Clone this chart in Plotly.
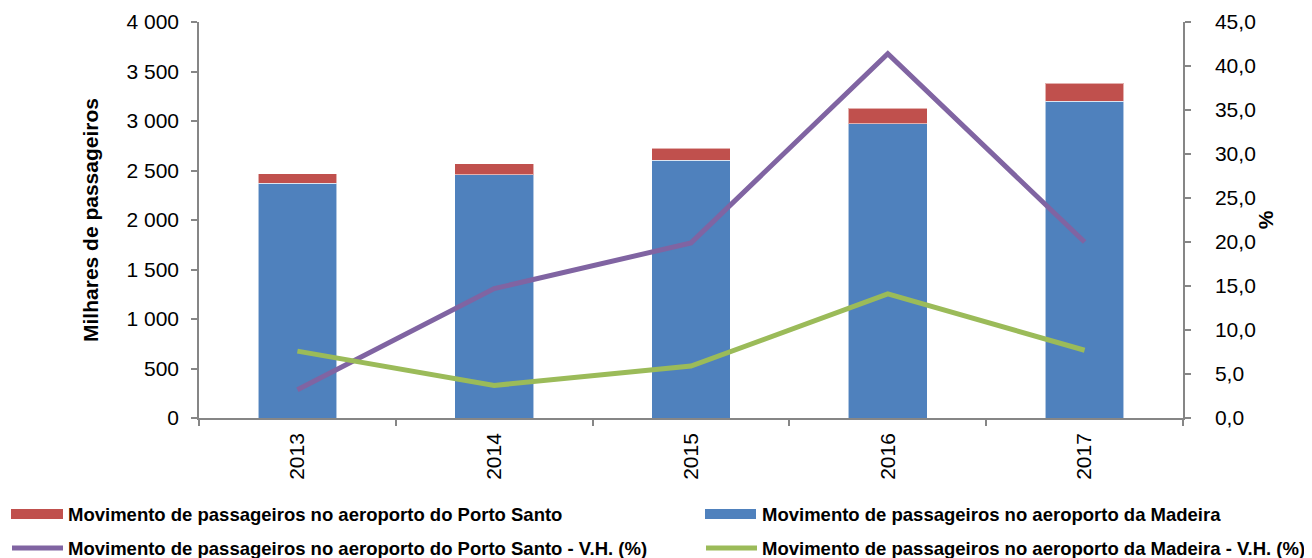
import plotly.graph_objects as go

years = ["2013", "2014", "2015", "2016", "2017"]
madeira = [2371, 2455, 2606, 2973, 3202]
porto_santo = [97, 111, 121, 155, 179]
vh_porto_santo = [3.2, 14.7, 19.9, 41.4, 20.0]
vh_madeira = [7.6, 3.7, 5.9, 14.1, 7.7]

left_ticks = [0, 500, 1000, 1500, 2000, 2500, 3000, 3500, 4000]
left_ticktext = ["0", "500", "1 000", "1 500", "2 000", "2 500", "3 000", "3 500", "4 000"]
right_ticks = [0, 5, 10, 15, 20, 25, 30, 35, 40, 45]
right_ticktext = ["0,0", "5,0", "10,0", "15,0", "20,0", "25,0", "30,0", "35,0", "40,0", "45,0"]

legend_labels = [
    "Movimento de passageiros no aeroporto do Porto Santo",
    "Movimento de passageiros no aeroporto da Madeira",
    "Movimento de passageiros no aeroporto do Porto Santo - V.H. (%)",
    "Movimento de passageiros no aeroporto da Madeira - V.H. (%)",
]

C_RED = "#C0504D"
C_BLUE = "#4F81BD"
C_PURPLE = "#8064A2"
C_GREEN = "#9BBB59"
AXIS = "#868686"
FONT = "Liberation Sans, Arial, sans-serif"

OFF = 8  # page body margin
W, H = 1312 - OFF, 558 - OFF
L, T = 199 - OFF, 22 - OFF
R = W - (1183 - OFF)
B = H - (418 - OFF)
PW, PH = W - L - R, H - T - B

fig = go.Figure()
fig.add_trace(go.Bar(x=years, y=madeira, name=legend_labels[1], marker=dict(color=C_BLUE, line=dict(color="rgba(255,255,255,0.55)", width=1)), width=0.4))
fig.add_trace(go.Bar(x=years, y=porto_santo, name=legend_labels[0], marker=dict(color=C_RED, line=dict(color="rgba(255,255,255,0.55)", width=1)), width=0.4))
fig.add_trace(go.Scatter(x=years, y=vh_porto_santo, name=legend_labels[2], mode="lines", line=dict(color=C_PURPLE, width=5), yaxis="y2"))
fig.add_trace(go.Scatter(x=years, y=vh_madeira, name=legend_labels[3], mode="lines", line=dict(color=C_GREEN, width=5), yaxis="y2"))


def px_x(px):
    return (px - OFF - L) / PW


def px_y(py):
    return (H - B - (py - OFF)) / PH


shapes = []
annotations = []
legend_items = [
    (legend_labels[0], C_RED, "rect", 11, 63, 514, 66),
    (legend_labels[1], C_BLUE, "rect", 705, 756, 514, 760),
    (legend_labels[2], C_PURPLE, "line", 12, 63, 548, 66),
    (legend_labels[3], C_GREEN, "line", 706, 757, 548, 760),
]
for label, color, kind, x0, x1, yc, tx in legend_items:
    if kind == "rect":
        shapes.append(dict(type="rect", xref="paper", yref="paper", x0=px_x(x0), x1=px_x(x1),
                           y0=px_y(yc + 5), y1=px_y(yc - 5), fillcolor=color, line=dict(width=0)))
    else:
        shapes.append(dict(type="line", xref="paper", yref="paper", x0=px_x(x0), x1=px_x(x1),
                           y0=px_y(yc), y1=px_y(yc), line=dict(color=color, width=5)))
    annotations.append(dict(text="<b>" + label + "</b>", xref="paper", yref="paper", x=px_x(tx),
                            y=px_y(yc), xanchor="left", yanchor="middle", showarrow=False,
                            font=dict(family=FONT, size=18.5, color="#000000")))

fig.update_layout(
    width=W, height=H,
    margin=dict(l=L, r=R, t=T, b=B, pad=0, autoexpand=False),
    barmode="stack",
    showlegend=False,
    plot_bgcolor="white",
    paper_bgcolor="white",
    font=dict(family=FONT, size=21, color="#000000"),
    xaxis=dict(
        type="category", range=[-0.5, 4.5], tickangle=-90, tickson="boundaries", automargin=False,
        ticks="outside", ticklen=6, tickcolor=AXIS, tickwidth=1.5, ticklabelstandoff=5,
        showline=True, linecolor=AXIS, linewidth=1.5, showgrid=False, zeroline=False,
        tickfont=dict(family=FONT, size=21),
    ),
    yaxis=dict(
        range=[0, 4000], tickvals=left_ticks, ticktext=left_ticktext, automargin=False,
        ticks="outside", ticklen=6, tickcolor=AXIS, tickwidth=1.5, ticklabelstandoff=8,
        showline=True, linecolor=AXIS, linewidth=1.5, showgrid=False, zeroline=False,
        tickfont=dict(family=FONT, size=21),
        title=dict(text="<b>Milhares de passageiros</b>", font=dict(family=FONT, size=21), standoff=22),
    ),
    yaxis2=dict(
        overlaying="y", side="right", range=[0, 45], tickvals=right_ticks, ticktext=right_ticktext,
        automargin=False,
        ticks="outside", ticklen=6, tickcolor=AXIS, tickwidth=1.5, ticklabelstandoff=20,
        showline=True, linecolor=AXIS, linewidth=1.5, showgrid=False, zeroline=False,
        tickfont=dict(family=FONT, size=21),
        title=dict(text="<b>%</b>", font=dict(family=FONT, size=21), standoff=3),
    ),
    shapes=shapes,
    annotations=annotations,
)

fig.write_html("out.html")
